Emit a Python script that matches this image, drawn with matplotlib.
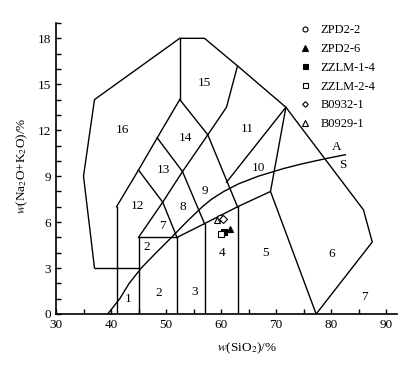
import matplotlib
matplotlib.use('Agg')
import matplotlib.pyplot as plt
from matplotlib.ticker import MultipleLocator

plt.rcParams['font.family'] = 'serif'
plt.rcParams['font.serif'] = ['Liberation Serif', 'DejaVu Serif']
plt.rcParams['mathtext.fontset'] = 'stix'

# field boundaries (SiO2, Na2O+K2O)
outline = [(37, 3), (35, 9), (37, 14), (52.5, 18), (57, 18), (63, 16.2),
           (71.8, 13.5), (85.9, 6.8), (87.5, 4.7), (77.3, 0)]
foid_base = [(37, 3), (45, 3)]
v41 = [(41, 0), (41, 7)]
v45 = [(45, 0), (45, 5)]
v52 = [(52, 0), (52, 5)]
v57 = [(57, 0), (57, 5.9)]
v63 = [(63, 0), (63, 7)]
v525 = [(52.5, 14), (52.5, 18)]
h5 = [(45, 5), (52, 5)]
base_chain = [(52, 5), (57, 5.9), (63, 7), (69, 8), (77.3, 0)]
up1 = [(41, 7), (45, 9.4), (48.4, 11.5), (52.5, 14)]
up2 = [(45, 5), (49.4, 7.3), (53, 9.3), (57.6, 11.7)]
down1 = [(45, 9.4), (49.4, 7.3), (52, 5)]
down2 = [(48.4, 11.5), (53, 9.3), (57, 5.9)]
down3 = [(52.5, 14), (57.6, 11.7), (63, 7)]
syenite_top = [(57.6, 11.7), (61, 13.5), (63, 16.2)]
qmz_line = [(61, 8.6), (71.8, 13.5)]
granite_left = [(69, 8), (71.8, 13.5)]
boundaries = [outline, foid_base, v41, v45, v52, v57, v63, v525, h5, base_chain,
              up1, up2, down1, down2, down3, syenite_top, qmz_line, granite_left]

# alkaline / subalkaline divide
as_sio2 = [39.4, 40.5, 41.6, 43.3, 45.5, 48.2, 51.0, 53.7, 56.6, 58.3, 60.5,
           63.2, 66.8, 71.4, 74.7, 77.2, 79.8, 82.6]
as_alk = [0, 0.5, 1, 2, 3, 4, 5, 6, 7, 7.5, 8, 8.5, 9, 9.5, 9.8, 10.0, 10.2, 10.4]

# field numbers
field_labels = ['1', '2', '2', '3', '4', '5', '6', '7', '7', '8', '9', '10',
                '11', '12', '13', '14', '15', '16', 'A', 'S']
field_x = [43.1, 48.7, 46.5, 55.2, 60.2, 68.1, 80.2, 86.1, 49.3, 53.1, 57.1, 66.8,
           64.7, 44.8, 49.5, 53.5, 57.0, 42.0, 81.0, 82.1]
field_y = [1.0, 1.4, 4.4, 1.45, 4.0, 4.0, 3.95, 1.1, 5.75, 7.0, 8.0, 9.55,
           12.1, 7.05, 9.4, 11.5, 15.1, 12.0, 10.9, 9.75]

# samples
samples = ['ZPD2-2', 'ZPD2-6', 'ZZLM-1-4', 'ZZLM-2-4', 'B0932-1', 'B0929-1']
sio2 = [59.9, 61.7, 60.5, 60.0, 60.3, 59.3]
alk = [6.25, 5.55, 5.35, 5.2, 6.2, 6.15]
markers = ['o', '^', 's', 's', 'D', '^']
fills = ['white', 'black', 'black', 'white', 'white', 'white']
sizes = [4.5, 5, 4.5, 4.5, 3.6, 5]

fig = plt.figure(figsize=(4.09, 3.67), dpi=100)
ax = fig.add_axes([56/409, 1 - 314/367, 341/409, 291/367])

for seg in boundaries:
    xs, ys = zip(*seg)
    ax.plot(xs, ys, color='black', lw=1.0, solid_joinstyle='miter')
ax.plot(as_sio2, as_alk, color='black', lw=1.0)

for t, x, y in zip(field_labels, field_x, field_y):
    ax.text(x, y, t, ha='center', va='center', fontsize=9.5)

for name, x, y, m, fc, s in zip(samples, sio2, alk, markers, fills, sizes):
    ax.plot([x], [y], linestyle='none', marker=m, ms=s, mfc=fc, mec='black',
            mew=0.8, label=name, zorder=5)

ax.legend(loc='upper left', bbox_to_anchor=(298.5/409, 1 - 24/367),
          bbox_transform=fig.transFigure, frameon=False, fontsize=9,
          handlelength=1.0, handletextpad=0.75, labelspacing=0.55,
          borderpad=0, borderaxespad=0, markerscale=0.8)

ax.set_xlim(30, 92)
ax.set_ylim(0, 19)
ax.xaxis.set_major_locator(MultipleLocator(10))
ax.xaxis.set_minor_locator(MultipleLocator(5))
ax.yaxis.set_major_locator(MultipleLocator(3))
ax.yaxis.set_minor_locator(MultipleLocator(1))
ax.tick_params(which='both', direction='in', length=3.5, width=1.0, labelsize=9.5)
ax.spines['top'].set_visible(False)
ax.spines['right'].set_visible(False)
ax.spines['left'].set_linewidth(1.2)
ax.spines['bottom'].set_linewidth(1.2)

ax.set_xlabel(r'$w$(SiO$_2$)/%', fontsize=9.5)
ax.set_ylabel(r'$w$(Na$_2$O+K$_2$O)/%', fontsize=9.5)
ax.xaxis.set_label_coords(0.56, -0.09)
ax.yaxis.set_label_coords(-0.075, 0.51)

fig.savefig('out.png', dpi=100)
